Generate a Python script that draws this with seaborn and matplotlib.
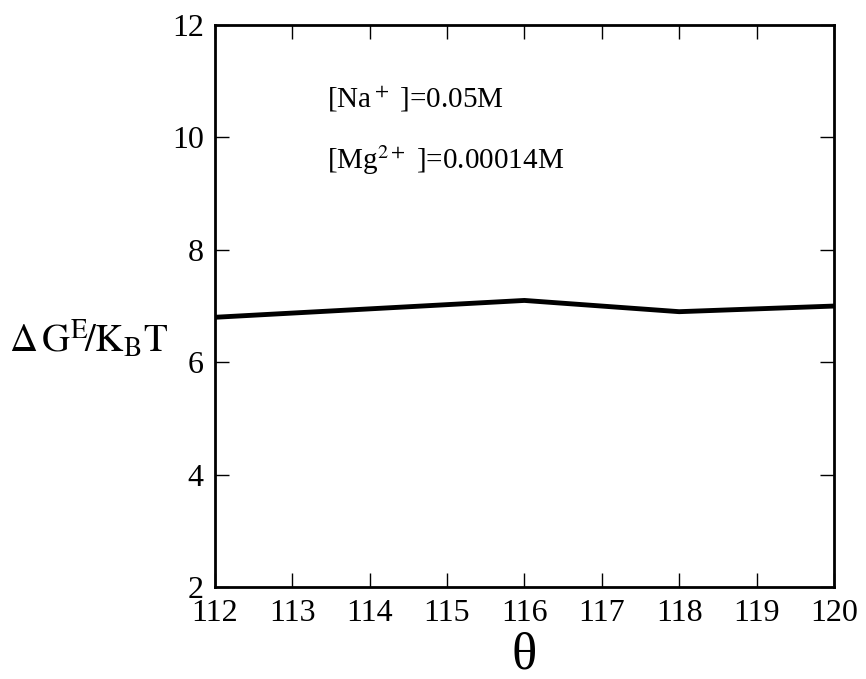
import pandas as pd
import numpy as np
import matplotlib
matplotlib.use('Agg')
import matplotlib.pyplot as plt
import seaborn as sns

# Data
theta = [112, 116, 118, 120]
dG = [6.8, 7.1, 6.9, 7.0]
x_ticks = [112, 113, 114, 115, 116, 117, 118, 119, 120]
y_ticks = [2, 4, 6, 8, 10, 12]

df = pd.DataFrame({'theta': theta, 'dG': dG})

sns.set_style('ticks')
plt.rcParams['font.family'] = ['Liberation Serif', 'DejaVu Serif']
plt.rcParams['mathtext.fontset'] = 'stix'
for k in ['axes.edgecolor', 'text.color', 'axes.labelcolor', 'xtick.color', 'ytick.color']:
    plt.rcParams[k] = 'black'

fig = plt.figure(figsize=(8.66, 6.79), dpi=100)
ax = fig.add_axes([0.248, 0.1355, 0.715, 0.8275])

sns.lineplot(data=df, x='theta', y='dG', ax=ax, color='black', linewidth=3.5)

ax.set_xlim(112, 120)
ax.set_ylim(2, 12)
ax.set_xticks(x_ticks)
ax.set_yticks(y_ticks)
ax.tick_params(direction='in', length=10, width=1.0, labelsize=23,
               top=True, right=True)
ax.tick_params(axis='x', pad=9)
ax.tick_params(axis='y', pad=8)
for s in ax.spines.values():
    s.set_linewidth(2)
    s.set_visible(True)

ax.set_xlabel('θ', fontsize=38, labelpad=2)
ax.set_ylabel(r'$\Delta\,\mathrm{G}^{\mathrm{E}}\!/\mathrm{K}_\mathrm{B}\mathrm{T}$', fontsize=28,
              rotation=0, va='center', ha='center')
ax.yaxis.set_label_coords(-0.203, 0.44)

ax.text(113.45, 10.67, r'[Na$^+$ ]=0.05M', fontsize=21, va='center')
ax.text(113.45, 9.6, r'[Mg$^{2+}$ ]=0.00014M', fontsize=21, va='center')

fig.savefig('out.png', dpi=100)
